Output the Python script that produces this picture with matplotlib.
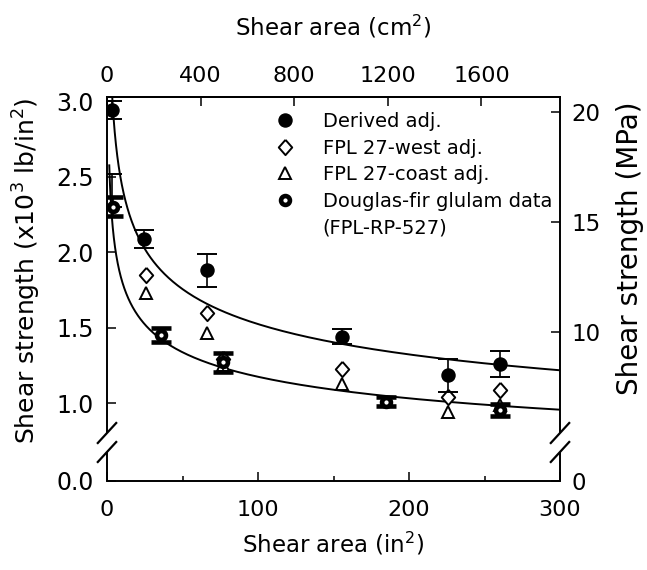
import numpy as np
import matplotlib
matplotlib.use('Agg')
import matplotlib.pyplot as plt
from matplotlib.lines import Line2D

plt.rcParams['font.family'] = ['DejaVu Sans']

# ---------------- data (shear area in in^2, strength in 10^3 lb/in^2) -------
derived_x = [3.5, 24.5, 66.5, 155.5, 225.5, 260.5]
derived_y = [2.94, 2.09, 1.88, 1.44, 1.185, 1.26]
derived_err = [0.06, 0.06, 0.11, 0.05, 0.11, 0.085]

west_x = [26.0, 66.0, 76.5, 155.5, 225.5, 260.5]
west_y = [1.85, 1.60, 1.29, 1.23, 1.04, 1.085]

coast_x = [25.5, 66.0, 76.5, 155.5, 225.5, 260.5]
coast_y = [1.73, 1.465, 1.25, 1.13, 0.945, 0.99]

glulam_x = [4.0, 35.5, 76.5, 185.0, 260.5]
glulam_y = [2.30, 1.45, 1.27, 1.01, 0.955]
glulam_err = [0.063, 0.045, 0.06, 0.03, 0.04]
glulam_range_x = [3.0]
glulam_range_y = [2.30]
glulam_range_up = [0.22]

# fitted power-law curves  y = a * x^(-b)
upper_fit = (3.9, 0.204)
lower_fit = (2.778, 0.1868)
upper_x_range = (3.0, 300.0)
lower_x_range = (1.5, 300.0)

labels = ['Derived adj.', 'FPL 27-west adj.', 'FPL 27-coast adj.',
          'Douglas-fir glulam data', '(FPL-RP-527)']

x_ticks = [0, 100, 200, 300]
y_ticks = [1.0, 1.5, 2.0, 2.5, 3.0]
top_ticks = [0, 400, 800, 1200, 1600]
right_ticks = [10, 15, 20]
IN2_TO_CM2 = 6.4516

# ---------------- figure ---------------------------------------------------
W, H = 647, 570
fig = plt.figure(figsize=(W / 100, H / 100), dpi=100)
L, R, T, B = 107, 560, 96.7, 481
ax = fig.add_axes([L / W, 1 - B / H, (R - L) / W, (B - T) / H])

ylo, yhi = 0.485, 3.03
ax.set_xlim(0, 300)
ax.set_ylim(ylo, yhi)

# curves
for (a, b), (x0, x1) in ((upper_fit, upper_x_range), (lower_fit, lower_x_range)):
    xs = np.geomspace(x0, x1, 400)
    ax.plot(xs, a * xs ** (-b), color='black', lw=1.4, zorder=2)

diamond = [(0, 1), (0.88, 0), (0, -1), (-0.88, 0), (0, 1)]

h_west, = ax.plot(west_x, west_y, ls='none', marker=diamond, ms=11,
                  mfc='white', mec='black', mew=1.4, zorder=3)
h_coast, = ax.plot(coast_x, coast_y, ls='none', marker='^', ms=9,
                   mfc='white', mec='black', mew=1.4, zorder=3)

ax.errorbar(glulam_range_x, glulam_range_y,
            yerr=[[0] * len(glulam_range_up), glulam_range_up],
            fmt='none', ecolor='black', elinewidth=1.2, capsize=7.5,
            capthick=1.4, zorder=3)
eg = ax.errorbar(glulam_x, glulam_y, yerr=glulam_err, fmt='o', ms=6.4,
                 mfc='white', mec='black', mew=3.3, ecolor='black',
                 elinewidth=1.2, capsize=7.5, capthick=1.4, zorder=4)
ed = ax.errorbar(derived_x, derived_y, yerr=derived_err, fmt='o', ms=9.4,
                 mfc='black', mec='black', ecolor='black', elinewidth=1.2,
                 capsize=7.5, capthick=1.4, zorder=5)

# ---------------- axes styling ----------------------------------------------
TICK = dict(direction='in', length=6.5, width=1.1)
ax.set_xticks(x_ticks)
ax.set_xticks([50, 150, 250], minor=True)
ax.set_yticks([ylo] + y_ticks)
ax.set_yticklabels(['0.0'] + [f'{v:.1f}' for v in y_ticks])
ax.tick_params(axis='x', which='major', pad=13.5, labelsize=16, **TICK)
ax.tick_params(axis='x', which='minor', direction='in', length=3.3, width=1.1)
ax.tick_params(axis='y', which='major', pad=9.5, labelsize=17, **TICK)
ax.tick_params(top=False, right=False)

for s in ('left', 'right'):
    ax.spines[s].set_visible(False)
for s in ('top', 'bottom'):
    ax.spines[s].set_linewidth(1.4)

# broken vertical axes
brk_lo, brk_hi = 0.0755, 0.1249
sx, sy = 9.2 / (R - L), 10 / (B - T)
for xa in (0, 1):
    ax.plot([xa, xa], [0, brk_lo], transform=ax.transAxes, color='black',
            lw=1.4, clip_on=False, solid_capstyle='butt')
    ax.plot([xa, xa], [brk_hi, 1], transform=ax.transAxes, color='black',
            lw=1.4, clip_on=False, solid_capstyle='butt')
    for yc in (brk_lo, brk_hi):
        ax.plot([xa - sx, xa + sx], [yc - sy, yc + sy], transform=ax.transAxes,
                color='black', lw=1.6, clip_on=False)

# right axis (MPa)
axr = ax.twinx()
rlo, rhi = 3.23, 20.69
axr.set_ylim(rlo, rhi)
axr.set_yticks([rlo] + right_ticks)
axr.set_yticklabels(['0'] + [str(v) for v in right_ticks])
axr.tick_params(axis='y', pad=8, labelsize=16.5, **TICK)
for s in axr.spines.values():
    s.set_visible(False)

# top axis (cm^2)
secx = ax.secondary_xaxis('top', functions=(lambda x: x * IN2_TO_CM2,
                                            lambda c: c / IN2_TO_CM2))
secx.set_xticks(top_ticks)
secx.tick_params(axis='x', pad=7.5, labelsize=16, **TICK)
secx.spines['top'].set_linewidth(1.4)

# labels
ax.set_xlabel('Shear area (in$^2$)', fontsize=16.5, va='center')
ax.xaxis.set_label_coords(0.5, (B - 544) / (B - T))
secx.set_xlabel('Shear area (cm$^2$)', fontsize=16.5, va='center')
secx.xaxis.set_label_coords(0.5, (B - 27) / (B - T), transform=ax.transAxes)
ax.set_ylabel('Shear strength (x10$^3$ lb/in$^2$)', fontsize=18, va='center')
ax.yaxis.set_label_coords((27 - L) / (R - L), (B - 271) / (B - T))
axr.set_ylabel('Shear strength (MPa)', fontsize=20, va='center', rotation=90)
axr.yaxis.set_label_coords((630 - L) / (R - L), (B - 248) / (B - T))

# legend
h_der = Line2D([], [], ls='none', marker='o', ms=9.4, color='black')
h_glu = Line2D([], [], ls='none', marker='o', ms=6.4, mfc='white',
               mec='black', mew=3.3)
h_blank = Line2D([], [], ls='none', marker=None)
ax.legend([h_der, h_west, h_coast, h_glu, h_blank], labels,
          loc='upper left', bbox_to_anchor=((276 - L) / (R - L), (B - 112) / (B - T)),
          frameon=False, fontsize=14, handlelength=0.95, handletextpad=1.45,
          borderpad=0, borderaxespad=0, labelspacing=0.39)

fig.savefig('out.png', dpi=100)
